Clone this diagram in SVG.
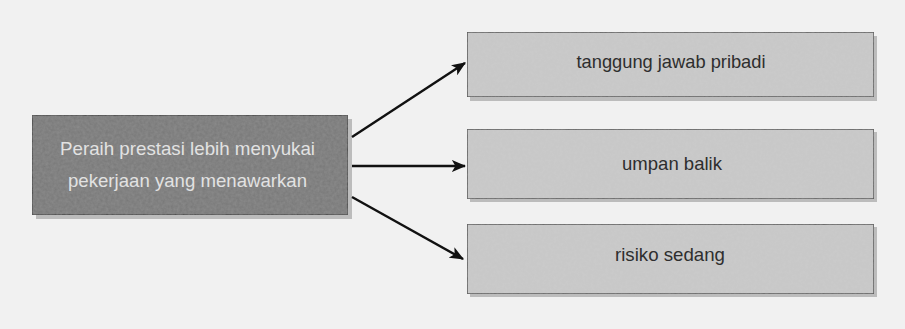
<svg xmlns="http://www.w3.org/2000/svg" width="905" height="329" viewBox="0 0 905 329">
  <defs>
    <style>
      .bg { fill: #f1f1f1; }
      .main { fill: #777777; stroke: #3a3a3a; stroke-width: 1.5; }
      .box { fill: #cbcbcb; stroke: #4a4a4a; stroke-width: 1.5; }
      .shadow { fill: #9a9a9a; opacity: 0.6; }
      .lt { font-family: "Liberation Sans", Arial, sans-serif; font-size: 19px; fill: #e2e2e2; }
      .dt { font-family: "Liberation Sans", Arial, sans-serif; font-size: 18.5px; fill: #2e2e2e; }
      .conn { stroke: #111; stroke-width: 2.4; fill: none; marker-end: url(#arrow); }
    </style>
    <marker id="arrow" viewBox="0 0 12 10" refX="11" refY="5" markerWidth="6" markerHeight="5" markerUnits="strokeWidth" orient="auto">
      <path d="M0,0 L12,5 L0,10 L3,5 Z" fill="#111"/>
    </marker>
    <filter id="grain" x="0" y="0" width="100%" height="100%">
      <feTurbulence type="fractalNoise" baseFrequency="0.35" numOctaves="2" seed="3" result="n"/>
      <feColorMatrix in="n" type="matrix" values="0 0 0 0 0.5  0 0 0 0 0.5  0 0 0 0 0.5  0 0 0 0.25 0" result="g"/>
      <feComposite in="g" in2="SourceGraphic" operator="in" result="gi"/>
      <feMerge><feMergeNode in="SourceGraphic"/><feMergeNode in="gi"/></feMerge>
    </filter>
  </defs>
  <rect class="bg" x="0" y="0" width="905" height="329"/>

  <g id="node-main">
    <rect class="shadow" x="36" y="119" width="316" height="100"/>
    <rect class="main" x="32" y="115" width="316" height="100" filter="url(#grain)"/>
    <text class="lt" x="187.5" y="155" text-anchor="middle" textLength="255" lengthAdjust="spacingAndGlyphs">Peraih prestasi lebih menyukai</text>
    <text class="lt" x="187.5" y="187" text-anchor="middle" textLength="239" lengthAdjust="spacingAndGlyphs">pekerjaan yang menawarkan</text>
  </g>

  <g id="node-tanggung">
    <rect class="shadow" x="470" y="36" width="407" height="65"/>
    <rect class="box" x="467" y="32" width="407" height="65" filter="url(#grain)"/>
    <text class="dt" x="671" y="68" text-anchor="middle" textLength="189" lengthAdjust="spacingAndGlyphs">tanggung jawab pribadi</text>
  </g>

  <g id="node-umpan">
    <rect class="shadow" x="470" y="132" width="407" height="70"/>
    <rect class="box" x="467" y="129" width="407" height="70" filter="url(#grain)"/>
    <text class="dt" x="672" y="170" text-anchor="middle" textLength="100" lengthAdjust="spacingAndGlyphs">umpan balik</text>
  </g>

  <g id="node-risiko">
    <rect class="shadow" x="470" y="227" width="407" height="70"/>
    <rect class="box" x="467" y="224" width="407" height="70" filter="url(#grain)"/>
    <text class="dt" x="670" y="261" text-anchor="middle" textLength="110" lengthAdjust="spacingAndGlyphs">risiko sedang</text>
  </g>

  <g id="connectors">
    <line class="conn" x1="352" y1="137" x2="465" y2="63"/>
    <line class="conn" x1="352" y1="166" x2="465" y2="166"/>
    <line class="conn" x1="352" y1="197" x2="463" y2="259"/>
  </g>
</svg>
